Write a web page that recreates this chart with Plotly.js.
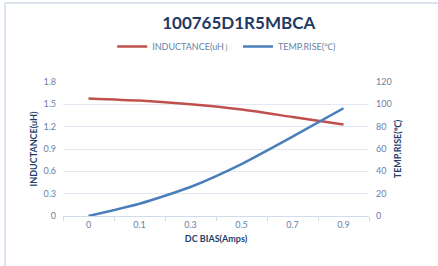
<!DOCTYPE html>
<html><head><meta charset="utf-8">
<script src="https://cdn.plot.ly/plotly-3.0.1.min.js"></script>
<style>html,body{margin:0;padding:0;background:#fff}#c{width:438px;height:266px}</style>
</head><body><div id="c"></div>
<script>
const categories = ["0", "0.1", "0.3", "0.5", "0.7", "0.9"];
const inductance = [1.58, 1.55, 1.50, 1.43, 1.33, 1.23];
const tempRise = [0, 11, 26, 46.5, 71, 96.5];
const leftTicks = [0, 0.3, 0.6, 0.9, 1.2, 1.5, 1.8];
const rightTicks = [0, 20, 40, 60, 80, 100, 120];

const tickFont = {family: "Lato, 'Open Sans', sans-serif", size: 9, color: "#6a7fa3"};
const titleFont = {family: "Lato, 'Open Sans', sans-serif", size: 9, color: "#1f3d6b", weight: "bold"};

const traces = [
  {x: categories, y: inductance, type: "scatter", mode: "lines", name: "INDUCTANCE(uH）",
   line: {color: "#c0504d", width: 2.5, shape: "spline", smoothing: 0.6}, yaxis: "y"},
  {x: categories, y: tempRise, type: "scatter", mode: "lines", name: "TEMP.RISE(℃)",
   line: {color: "#4a7ebb", width: 2.5, shape: "spline", smoothing: 0.6}, yaxis: "y2"}
];

const layout = {
  width: 438, height: 266,
  margin: {l: 63, r: 69, t: 82, b: 50},
  paper_bgcolor: "#ffffff", plot_bgcolor: "#ffffff",
  showlegend: true,
  title: {text: "<b>100765D1R5MBCA</b>", x: 0.545, xanchor: "center", y: 0.915, yanchor: "middle",
    font: {family: "Lato, 'Open Sans', sans-serif", size: 17, color: "#1f3864"}},
  legend: {orientation: "h", x: 0.535, xanchor: "center", y: 0.825, yref: "container", yanchor: "middle",
    font: {family: "Lato, 'Open Sans', sans-serif", size: 9, color: "#6a7fa3"},
    itemwidth: 30, tracegroupgap: 0, bgcolor: "rgba(0,0,0,0)"},
  xaxis: {type: "category", tickson: "boundaries", ticks: "outside", ticklen: 4, tickcolor: "#d0dbec",
    showline: true, linecolor: "#d0dbec", linewidth: 1, showgrid: false, zeroline: false,
    tickfont: tickFont, range: [-0.5, 5.5],
    title: {text: "<b>DC BIAS(Amps)</b>", font: titleFont, standoff: 6}},
  yaxis: {range: [0, 1.8], tickvals: leftTicks, ticktext: leftTicks.map(v => v === 0 ? "0" : v.toFixed(1)),
    showgrid: true, gridcolor: "#e3e9f3", gridwidth: 1, zeroline: false, showline: false,
    tickfont: tickFont, ticks: "", ticklabelstandoff: 6,
    title: {text: "<b>INDUCTANCE(uH)</b>", font: titleFont, standoff: 4}},
  yaxis2: {range: [0, 120], tickvals: rightTicks, overlaying: "y", side: "right",
    showgrid: false, zeroline: false, showline: false, tickfont: tickFont, ticks: "", ticklabelstandoff: 6,
    title: {text: "<b>TEMP.RISE(℃)</b>", font: titleFont, standoff: 4}},
  shapes: [
    {type: "line", xref: "paper", yref: "paper", x0: -0.1895, x1: -0.1895, y0: -0.5, y1: 1.59,
     line: {color: "#dde4ef", width: 2}},
    {type: "line", xref: "paper", yref: "paper", x0: -0.1895, x1: 1.3, y0: 1.59, y1: 1.59,
     line: {color: "#dde4ef", width: 2}}
  ]
};

Plotly.newPlot("c", traces, layout, {displayModeBar: false, staticPlot: true});
</script></body></html>
